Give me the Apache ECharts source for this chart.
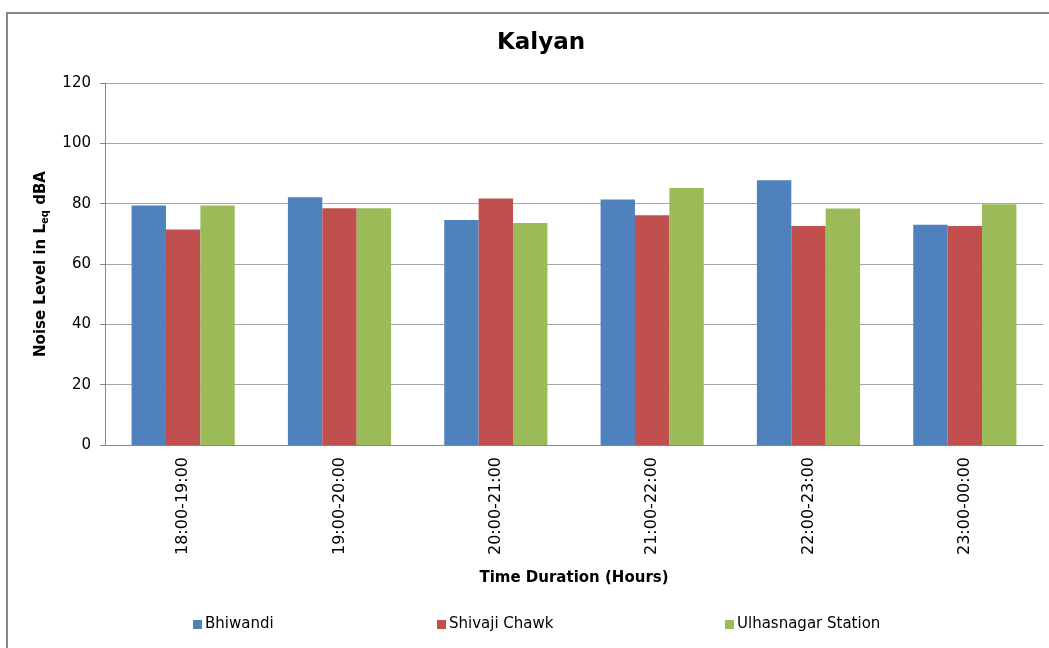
<!DOCTYPE html>
<html>
<head>
<meta charset="utf-8">
<script src="https://cdn.jsdelivr.net/npm/echarts@6/dist/echarts.min.js"></script>
<style>
	html, body { margin: 0; padding: 0; background: #fff; }
	#charts { width: 1049px; height: 648px; }
</style>
</head>
<body>
<div id="charts"></div>
<script>
const categories = ['18:00-19:00', '19:00-20:00', '20:00-21:00', '21:00-22:00', '22:00-23:00', '23:00-00:00'];
const seriesNames = ['Bhiwandi', 'Shivaji Chawk', 'Ulhasnagar Station'];
const bhiwandi = [79.4, 82.1, 74.6, 81.4, 87.8, 73.0];
const shivajiChawk = [71.4, 78.5, 81.7, 76.2, 72.6, 72.6];
const ulhasnagarStation = [79.4, 78.5, 73.6, 85.2, 78.4, 79.8];
const colors = ['#4F81BD', '#C0504D', '#9BBB59'];
const yTicks = { min: 0, max: 120, interval: 20 };

const FONT = '"DejaVu Sans", Verdana, sans-serif';

const myChart = echarts.init(document.getElementById('charts'));

const legendPos = [188, 432, 720];
const legends = seriesNames.map((name, i) => ({
	data: [name],
	left: legendPos[i],
	top: 612,
	icon: 'rect',
	itemWidth: 9,
	itemHeight: 9,
	itemGap: 4,
	textStyle: { fontFamily: FONT, fontSize: 15, color: '#000', padding: [0, 0, 0, -2] }
}));

const values = [bhiwandi, shivajiChawk, ulhasnagarStation];
const seriesList = values.map((data, i) => ({
	type: 'bar',
	name: seriesNames[i],
	data: data,
	barGap: '0%',
	barCategoryGap: '34%',
	itemStyle: { color: colors[i] }
}));

const option = {
	animation: false,
	color: colors,
	title: {
		text: 'Kalyan',
		left: 536,
		top: 27,
		textAlign: 'center',
		textStyle: { fontFamily: FONT, fontSize: 23, fontWeight: 'bold', color: '#000' }
	},
	legend: legends,
	grid: { left: 105, right: 6, top: 83, bottom: 203 },
	xAxis: {
		type: 'category',
		data: categories,
		name: 'Time Duration (Hours)',
		nameLocation: 'middle',
		nameGap: 126,
		nameTextStyle: { fontFamily: FONT, fontSize: 15, fontWeight: 'bold', color: '#000' },
		axisLine: { lineStyle: { color: '#878787', width: 1 } },
		axisTick: { show: false },
		axisLabel: { rotate: 90, margin: 12, fontFamily: FONT, fontSize: 16, color: '#000' }
	},
	yAxis: {
		type: 'value',
		min: yTicks.min,
		max: yTicks.max,
		interval: yTicks.interval,
		name: '{b|Noise Level in L}{s|eq}{b| dBA}',
		nameLocation: 'middle',
		nameGap: 55,
		nameRotate: 90,
		nameTextStyle: {
			fontFamily: FONT,
			color: '#000',
			rich: {
				b: { fontFamily: FONT, fontSize: 15, fontWeight: 'bold', color: '#000', lineHeight: 18, verticalAlign: 'middle' },
				s: { fontFamily: FONT, fontSize: 10, fontWeight: 'bold', color: '#000', lineHeight: 18, verticalAlign: 'bottom', padding: [6, 0, 0, 0] }
			}
		},
		axisLine: { show: true, lineStyle: { color: '#878787', width: 1 } },
		axisTick: { show: true, length: 5, lineStyle: { color: '#878787' } },
		axisLabel: { margin: 14, fontFamily: FONT, fontSize: 15, color: '#000' },
		splitLine: { lineStyle: { color: '#A6A6A6', width: 1 } }
	},
	graphic: [{
		type: 'rect',
		shape: { x: 7, y: 13, width: 1100, height: 700 },
		style: { fill: null, stroke: '#878787', lineWidth: 2 },
		silent: true
	}],
	series: seriesList
};

myChart.setOption(option);
</script>
</body>
</html>
